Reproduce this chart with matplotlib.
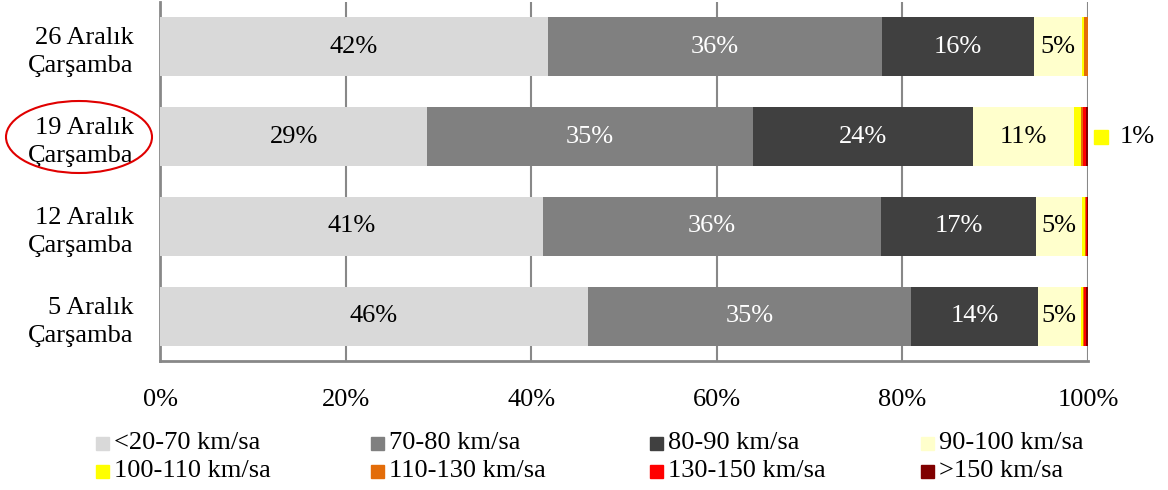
import numpy as np
import matplotlib
matplotlib.use("Agg")
import matplotlib.pyplot as plt
from matplotlib.patches import Ellipse, Rectangle
from matplotlib.transforms import ScaledTranslation

plt.rcParams['font.family'] = ['Liberation Serif', 'DejaVu Serif']

# ---------------------------------------------------------------------------
# Data (share of vehicles per speed band, %)
# ---------------------------------------------------------------------------
days = ['5 Aralık\nÇarşamba', '12 Aralık\nÇarşamba', '19 Aralık\nÇarşamba', '26 Aralık\nÇarşamba']
bands = ['<20-70 km/sa', '70-80 km/sa', '80-90 km/sa', '90-100 km/sa',
         '100-110 km/sa', '110-130 km/sa', '130-150 km/sa', '>150 km/sa']
colors = ['#d9d9d9', '#808080', '#404040', '#ffffcc',
          '#ffff00', '#e36c09', '#ff0000', '#800000']

s_20_70 = [46.1, 41.3, 28.8, 41.8]
s_70_80 = [34.8, 36.4, 35.1, 36.0]
s_80_90 = [13.7, 16.7, 23.7, 16.4]
s_90_100 = [4.6, 5.0, 10.9, 5.2]
s_100_110 = [0.3, 0.3, 0.7, 0.15]
s_110_130 = [0.1, 0.05, 0.3, 0.45]
s_130_150 = [0.15, 0.1, 0.25, 0.0]
s_150 = [0.25, 0.15, 0.25, 0.0]
series = [s_20_70, s_70_80, s_80_90, s_90_100, s_100_110, s_110_130, s_130_150, s_150]

labelled = 4             # first four bands carry value labels
label_colors = ['black', 'white', 'white', 'black']
extra_label_day = 2      # "19 Aralık" gets a separate 1% label for 100-110
extra_label_band = 4

FS = 19

# ---------------------------------------------------------------------------
W, H = 1168, 490
fig = plt.figure(figsize=(W / 100, H / 100), dpi=100)
ax = fig.add_axes([160 / W, 1 - 361 / H, 928 / W, 359 / H])

y = np.arange(len(days))
left = np.zeros(len(days))
for i, vals in enumerate(series):
    vals = np.array(vals) / 100.0
    ax.barh(y, vals, left=left, height=0.66, color=colors[i], zorder=3)
    if i < labelled:
        for j, v in enumerate(vals):
            ax.text(left[j] + v / 2, y[j], f'{round(v * 100):.0f}%',
                    ha='center', va='center', fontsize=FS,
                    color=label_colors[i], zorder=4)
    left += vals

# separate label with legend key for 100-110 on 19 Aralık
v = series[extra_label_band][extra_label_day]
ax.plot([1.0], [y[extra_label_day]], marker='s', markersize=10,
        color=colors[extra_label_band], clip_on=False,
        transform=ax.transData + ScaledTranslation(13 / 100, 0, fig.dpi_scale_trans))
ax.text(1.0, y[extra_label_day], f'{max(1, round(v)):.0f}%', fontsize=FS,
        va='center', ha='left',
        transform=ax.transData + ScaledTranslation(32 / 100, 0, fig.dpi_scale_trans))

ax.set_xlim(0, 1)
ax.set_ylim(-0.5, len(days) - 0.5)
ax.set_xticks(np.linspace(0, 1, 6))
ax.set_xticklabels([f'{int(t * 100)}%' for t in np.linspace(0, 1, 6)], fontsize=FS)
ax.set_yticks(y)
ax.set_yticklabels(days, fontsize=FS, ha='right', multialignment='right',
                   linespacing=1.35)
ax.tick_params(axis='x', length=0, pad=20)
ax.tick_params(axis='y', length=0, pad=19)
ax.grid(axis='x', color='#888888', linewidth=1.5, zorder=0)
for s in ['top', 'right']:
    ax.spines[s].set_visible(False)
for s in ['left', 'bottom']:
    ax.spines[s].set_color('#888888')
    ax.spines[s].set_linewidth(2)

# red ellipse around the 19 Aralık label
fig.add_artist(Ellipse((79 / W, 1 - 137 / H), 146 / W, 72 / H,
                       transform=fig.transFigure, fill=False,
                       edgecolor='#e00000', linewidth=1.5))

# legend: 4 columns, row-major
col_x = [96, 371, 650, 921]
row_y = [443, 471]
for i, name in enumerate(bands):
    cx = col_x[i % 4]
    cy = row_y[i // 4]
    fig.add_artist(Rectangle((cx / W, 1 - (cy + 7) / H), 13 / W, 13 / H,
                             transform=fig.transFigure, color=colors[i]))
    fig.text((cx + 18) / W, 1 - cy / H, name, fontsize=FS, va='center', ha='left')

fig.savefig('out.png', dpi=100)
